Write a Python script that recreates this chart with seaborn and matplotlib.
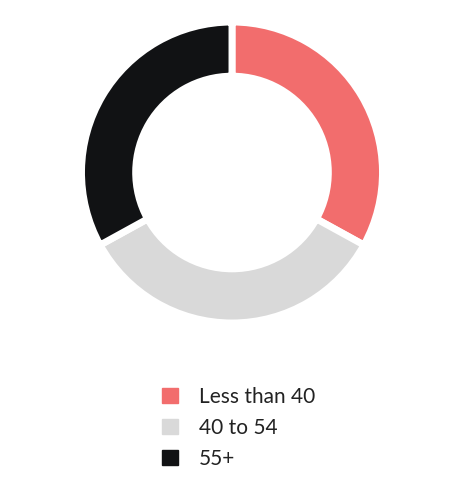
import matplotlib.pyplot as plt
import matplotlib.patches as mpatches
import seaborn as sns

# age group shares
labels = ["Less than 40", "40 to 54", "55+"]
shares = [33, 34, 33]
colors = ["#f26d6d", "#d9d9d9", "#111214"]

sns.set_theme(style="white")
plt.rcParams['font.family'] = ['Lato', 'DejaVu Sans']

W, H = 462, 500
fig = plt.figure(figsize=(W / 100, H / 100), dpi=100)

# donut, centred at (232, 172.5) px
r = 150.5
cx, cy = 232, 172.5
ax = fig.add_axes([(cx - r) / W, (H - cy - r) / H, 2 * r / W, 2 * r / H])
ax.pie(shares, colors=colors, startangle=90, counterclock=False,
       wedgeprops=dict(width=0.36, edgecolor="white", linewidth=5))
ax.set_xlim(-1, 1)
ax.set_ylim(-1, 1)
ax.axis("off")

handles = [mpatches.Patch(color=c, label=l) for c, l in zip(colors, labels)]
fig.legend(handles=handles, loc="upper left",
           bbox_to_anchor=(162 / W, 1 - 387 / H), frameon=False,
           fontsize=15, handlelength=0.77, handleheight=0.72,
           handletextpad=1.0, labelspacing=0.52, borderpad=0, borderaxespad=0,
           labelcolor="#222222")

fig.savefig("out.png", dpi=100)
